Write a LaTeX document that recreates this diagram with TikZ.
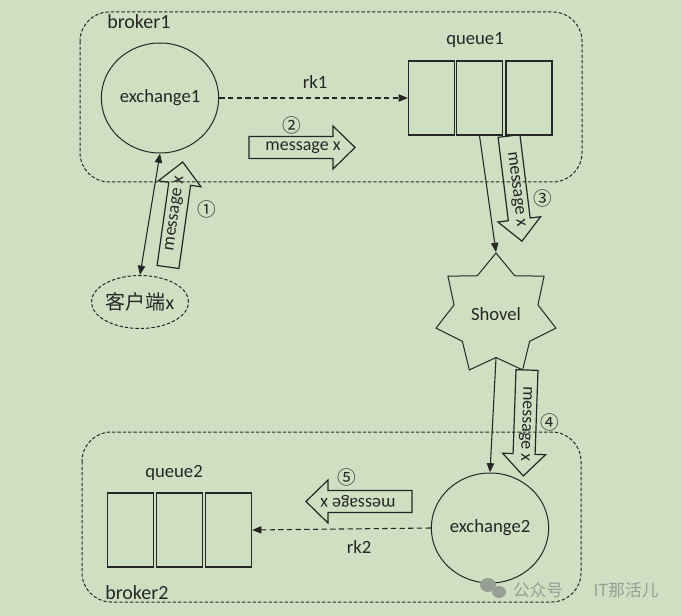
\documentclass[tikz,border=0pt]{standalone}
\usepackage{fontspec}
\setmainfont{Carlito}
\newfontfamily\cjkfont{Noto Sans CJK SC}
\usetikzlibrary{shapes.geometric}
\usetikzlibrary{arrows.meta}
\definecolor{bgGreen}{RGB}{206,223,194}
\definecolor{inkGray}{RGB}{38,38,38}
\definecolor{markGray}{RGB}{150,158,150}

\tikzset{
  pics/msgarrow/.style={code={
    \draw [msgline] (0,-11) -- (84,-11) -- (84,-21.5) -- (106,0) -- (84,21.5) -- (84,11) -- (0,11) -- cycle ;
    \node [msgtext, transform shape] (-txt) at (54,0) {message x};
  }}
}

\begin{document}
\begin{tikzpicture}[x=0.75pt,y=-0.75pt,
  every node/.style={inner sep=0.75pt, text=inkGray},
  brokerbox/.style={draw=inkGray, line width=0.75pt, dash pattern=on 2.5pt off 1.5pt, rounded corners=22pt},
  queuebox/.style={draw=inkGray, line width=0.9pt, minimum width=34.5pt, minimum height=55.5pt, inner sep=0pt},
  exbox/.style={ellipse, draw=inkGray, line width=0.75pt, minimum width=88pt, minimum height=82.5pt, inner sep=0pt, font=\fontsize{14}{16}\selectfont},
  clientbox/.style={ellipse, draw=inkGray, line width=0.75pt, dash pattern=on 2.5pt off 1.5pt, minimum width=72.75pt, minimum height=39.75pt, inner sep=0pt},
  flow/.style={draw=inkGray, line width=0.8pt, -{Triangle[length=7pt,width=5.5pt]}},
  biflow/.style={flow, {Triangle[length=7pt,width=5.5pt]}-{Triangle[length=7pt,width=5.5pt]}},
  route/.style={flow, dash pattern=on 4pt off 2.5pt},
  msgline/.style={draw=inkGray, line width=0.9pt},
  msgtext/.style={font=\fontsize{13.5}{16}\selectfont, inner sep=0pt},
  lbl/.style={font=\fontsize{14}{16}\selectfont},
  brokerlbl/.style={font=\fontsize{15}{17}\selectfont, anchor=west},
  stepnum/.style={font=\cjkfont\fontsize{14}{16}\selectfont},
  wmark/.style={font=\cjkfont\fontsize{12.5}{14}\selectfont, text=markGray}]
\fill [bgGreen] (0,0) rectangle (681,616) ;
\useasboundingbox (0,0) rectangle (681,616) ;

%Rounded Rect: broker1
\draw [brokerbox] (80,12) rectangle (582,182) ;
%Rounded Rect: broker2
\draw [brokerbox] (82,432) rectangle (581,602) ;

% Text Node
\node [brokerlbl] (b1) at (106,22) {broker1};
% Text Node
\node [brokerlbl] (b2) at (104,593) {broker2};

%Shape: Ellipse
\node [exbox] (ex1) at (160,98) {exchange1};
%Shape: Ellipse
\node [exbox] (ex2) at (490,528) {exchange2};
%Shape: Ellipse
\node [clientbox] (client) at (140,302) {\cjkfont\fontsize{15}{17}\selectfont 客户端\fontspec{Carlito}x};

%Shape: Star
\node [star, star points=7, star point ratio=1.43, minimum size=92.25pt, inner sep=0pt, draw=inkGray, line width=0.75pt, font=\fontsize{14}{16}\selectfont] (shovel) at (496,314.5) {Shovel};

%Shape: Rectangle (queue1)
\node [queuebox] (q1a) at (431.5,98) {};
\node [queuebox] (q1b) at (479.5,98) {};
\node [queuebox] (q1c) at (529,98) {};
% Text Node
\node [lbl] (q1) at (475,40) {queue1};

%Shape: Rectangle (queue2)
\node [queuebox] (q2a) at (130.5,530) {};
\node [queuebox] (q2b) at (179.5,530) {};
\node [queuebox] (q2c) at (228.5,530) {};
% Text Node
\node [lbl] (q2) at (174,473) {queue2};

%Straight Lines
\draw [route] (ex1.east) -- (q1a.west) ;
\node [lbl] (rk1) at (315,82) {rk1};
%Straight Lines
\draw [route] (ex2.west) -- (q2c.east) ;
\node [lbl] (rk2) at (359,547) {rk2};
%Straight Lines
\draw [biflow] (client.north) -- (ex1.south) ;
%Straight Lines
\draw [flow] (q1b.south) -- (shovel.north) ;
%Straight Lines
\draw [flow] (shovel.south) -- (ex2.north) ;

%Shape: Right Arrow (message x)
\pic [rotate=82] (m1) at (168,267) {msgarrow};
\pic (m2) at (249,147.5) {msgarrow};
\pic [rotate=-83] (m3) at (509,136) {msgarrow};
\pic [rotate=-92] (m4) at (527,370) {msgarrow};
\pic [rotate=180] (m5) at (412,501.5) {msgarrow};

% Text Node
\node [stepnum] (n1) at (207,209) {①};
\node [stepnum] (n2) at (292,125) {②};
\node [stepnum] (n3) at (543,198) {③};
\node [stepnum] (n4) at (550,422) {④};
\node [stepnum] (n5) at (347,477) {⑤};

%Watermark
\fill [markGray] (488,585) ellipse [x radius=8, y radius=7] ;
\fill [markGray] (499,592) ellipse [x radius=7, y radius=6] ;
\node [wmark] (wm1) at (538,590) {公众号};
\node [wmark] (wm2) at (626,590) {IT那活儿};

\end{tikzpicture}
\end{document}
